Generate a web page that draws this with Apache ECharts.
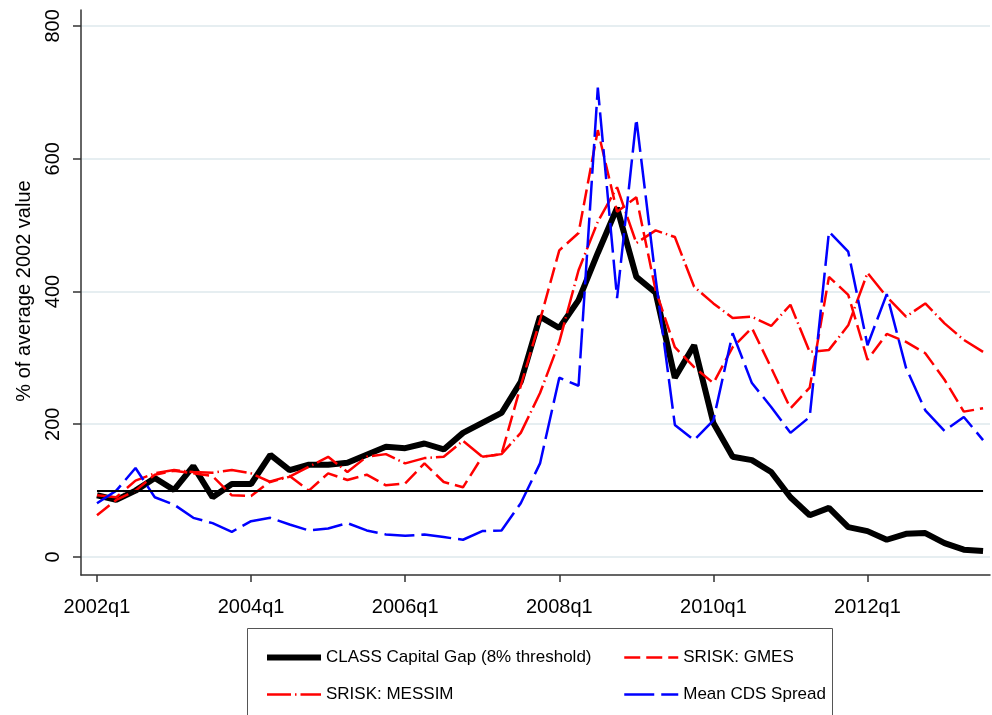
<!DOCTYPE html>
<html>
<head>
<meta charset="utf-8">
<script src="https://cdn.jsdelivr.net/npm/echarts@6/dist/echarts.min.js"></script>
<style>
  html, body { margin: 0; padding: 0; background: #fff; }
  #chart { width: 992px; height: 715px; }
</style>
</head>
<body>
<div id="chart"></div>
<script>
// quarters 2002q1 .. 2013q3
const quarters = [];
for (let y = 2002; y <= 2013; y++) {
  for (let q = 1; q <= 4; q++) {
    if (y === 2013 && q > 3) break;
    quarters.push(y + 'q' + q);
  }
}

const xTickIdx = [0, 8, 16, 24, 32, 40];
const xTickLabels = ['2002q1', '2004q1', '2006q1', '2008q1', '2010q1', '2012q1'];
const yTicks = [0, 200, 400, 600, 800];
const refLevel = 100;

const classGap = [93, 86, 100, 119, 101, 137, 90, 110, 110, 154, 131, 139, 139, 142, 154, 166, 164, 171, 162, 187, 202, 217, 264, 362, 345, 387, 458, 526, 422, 398, 270, 319, 202, 151, 146, 128, 90, 63, 74, 45, 39, 26, 35, 36, 21, 11, 9];
const gmes = [63, 86, 100, 124, 130, 126, 122, 93, 92, 114, 122, 100, 126, 116, 124, 108, 111, 141, 113, 105, 151, 155, 258, 357, 462, 488, 643, 520, 542, 402, 316, 286, 262, 316, 345, 285, 224, 255, 422, 395, 297, 336, 324, 307, 267, 219, 224];
const messim = [93, 90, 115, 126, 131, 128, 127, 131, 126, 113, 121, 136, 151, 128, 151, 155, 141, 149, 151, 175, 151, 155, 187, 247, 324, 432, 505, 557, 473, 492, 482, 407, 382, 360, 362, 348, 380, 309, 312, 349, 428, 392, 362, 382, 352, 327, 309];
const cds = [81, 100, 134, 90, 79, 59, 51, 38, 54, 59, 49, 40, 43, 51, 40, 34, 32, 34, 30, 26, 39, 40, 81, 141, 270, 258, 707, 390, 660, 420, 199, 176, 206, 337, 262, 226, 187, 211, 490, 460, 319, 396, 285, 221, 190, 211, 176];

const toPairs = arr => arr.map((v, i) => [i, v]);
const font = 'Liberation Sans, Arial, sans-serif';

const styles = {
  'CLASS Capital Gap (8% threshold)': { color: '#000', width: 6, type: 'solid' },
  'SRISK: GMES': { color: '#ff0000', width: 2.5, type: [16, 6] },
  'SRISK: MESSIM': { color: '#ff0000', width: 2.5, type: [24, 4, 1.5, 4] },
  'Mean CDS Spread': { color: '#0000ff', width: 2.5, type: [30, 7] }
};

// legend entries: line only, no marker
function legendItem(name) {
  return {
    name: name,
    lineStyle: styles[name],
    itemStyle: { opacity: 0, borderWidth: 0 }
  };
}

const chart = echarts.init(document.getElementById('chart'));

const legendBase = {
  orient: 'vertical', top: 644,
  itemWidth: 54, itemHeight: 14, itemGap: 20,
  textStyle: { fontFamily: font, fontSize: 17, color: '#000' }
};

const option = {
  animation: false,
  backgroundColor: '#fff',
  grid: { left: 81, right: 2, top: 10, bottom: 140, containLabel: false },
  xAxis: {
    type: 'value',
    min: -0.83,
    max: 46.36,
    axisLine: { onZero: false, lineStyle: { color: '#333', width: 1.5 } },
    axisTick: { customValues: xTickIdx, length: 7, lineStyle: { color: '#333', width: 1.5 } },
    axisLabel: {
      customValues: xTickIdx,
      formatter: v => xTickLabels[xTickIdx.indexOf(v)] || '',
      color: '#000', fontFamily: font, fontSize: 20, margin: 22
    },
    splitLine: { show: false }
  },
  yAxis: {
    type: 'value',
    min: -27.1,
    max: 824,
    axisLine: { onZero: false, lineStyle: { color: '#333', width: 1.5 } },
    axisTick: { customValues: yTicks, length: 8, lineStyle: { color: '#333', width: 1.5 } },
    axisLabel: {
      customValues: yTicks,
      rotate: 90,
      color: '#000', fontFamily: font, fontSize: 20, margin: 18
    },
    splitLine: { show: true, lineStyle: { color: '#e6eef1', width: 2 } }
  },
  legend: [
    Object.assign({}, legendBase, {
      left: 259,
      data: [legendItem('CLASS Capital Gap (8% threshold)'), legendItem('SRISK: MESSIM')]
    }),
    Object.assign({}, legendBase, {
      left: 618,
      data: [legendItem('SRISK: GMES'), legendItem('Mean CDS Spread')]
    })
  ],
  graphic: [
    {
      type: 'rect', shape: { x: 247.5, y: 628.5, width: 585, height: 100 },
      style: { fill: 'none', stroke: '#555', lineWidth: 1 }, z: -1
    },
    {
      type: 'text', x: 24, y: 291, rotation: Math.PI / 2,
      style: {
        text: '% of average 2002 value', fontFamily: font, fontSize: 20,
        fill: '#000', align: 'center', verticalAlign: 'middle'
      }
    }
  ],
  series: [
    {
      name: 'CLASS Capital Gap (8% threshold)', type: 'line', symbol: 'none',
      data: toPairs(classGap),
      lineStyle: styles['CLASS Capital Gap (8% threshold)'], itemStyle: { color: '#000' },
      markLine: {
        silent: true, symbol: 'none', label: { show: false },
        lineStyle: { color: '#000', width: 2, type: 'solid' },
        data: [[{ coord: [0, refLevel] }, { coord: [quarters.length - 1, refLevel] }]]
      }
    },
    {
      name: 'SRISK: GMES', type: 'line', symbol: 'none',
      data: toPairs(gmes),
      lineStyle: styles['SRISK: GMES'], itemStyle: { color: '#ff0000' }
    },
    {
      name: 'SRISK: MESSIM', type: 'line', symbol: 'none',
      data: toPairs(messim),
      lineStyle: styles['SRISK: MESSIM'], itemStyle: { color: '#ff0000' }
    },
    {
      name: 'Mean CDS Spread', type: 'line', symbol: 'none',
      data: toPairs(cds),
      lineStyle: styles['Mean CDS Spread'], itemStyle: { color: '#0000ff' }
    }
  ]
};

chart.setOption(option);
</script>
</body>
</html>
